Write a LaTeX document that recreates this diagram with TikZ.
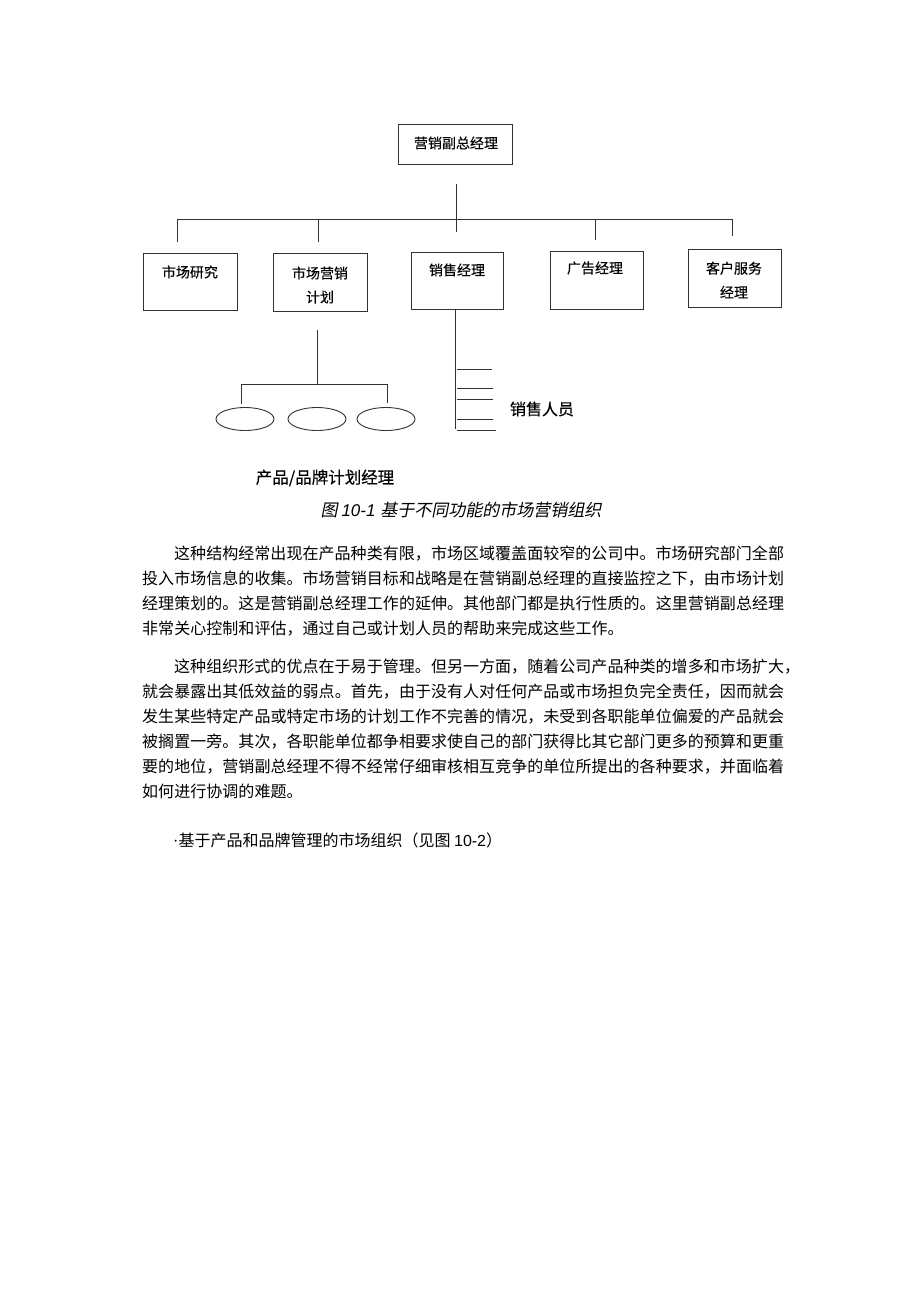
\documentclass[tikz,border=0pt]{standalone}
\usepackage{fontspec}
\usetikzlibrary{shapes.geometric}
\setmainfont{Liberation Serif}
\newfontfamily\cjk{Noto Sans CJK SC}
\newfontfamily\cjkb{Noto Sans CJK SC}[FakeBold=0.3]
\newfontfamily\cjkslant{Noto Sans CJK SC}[FakeSlant=0.2]
\newfontfamily\lsans{Liberation Sans}
\makeatletter
\newcommand\jline[1]{\@tfor\jc:=#1\do{\makebox[16.05pt][l]{\jc}}}
\makeatother
\begin{document}
\begin{tikzpicture}[x=1pt,y=-1pt,
  ln/.style={line width=1pt, draw=black!80},
  box/.style={draw=black!80, line width=1pt, inner sep=0pt, rectangle},
  oval/.style={draw=black!80, line width=0.9pt, ellipse, inner sep=0pt, minimum width=58pt, minimum height=23pt},
  lbl/.style={font=\cjkb\fontsize{14}{24}\selectfont, inner sep=0pt, align=center},
  ptext/.style={font=\cjk\fontsize{16}{16}\selectfont, inner sep=0pt, anchor=base west},
]
\useasboundingbox (0,0) rectangle (920,1302);
\fill[white] (0,0) rectangle (920,1302);

% boxes
\node[box, minimum width=114pt, minimum height=40pt] (top) at (455,144) {};
\node[box, minimum width=94pt, minimum height=57pt] (A) at (190,281.5) {};
\node[box, minimum width=94pt, minimum height=58pt] (B) at (320,282) {};
\node[box, minimum width=92pt, minimum height=57pt] (C) at (457,280.5) {};
\node[box, minimum width=93pt, minimum height=58pt] (D) at (596.5,280) {};
\node[box, minimum width=93pt, minimum height=58pt] (E) at (734.5,278) {};

% labels
\node[lbl] (tTop) at (456,143) {营销副总经理};
\node[lbl] (tA) at (190,272) {市场研究};
\node[lbl] (tB) at (320,285) {市场营销\\计划};
\node[lbl] (tC) at (457,270) {销售经理};
\node[lbl] (tD) at (595,268) {广告经理};
\node[lbl] (tE) at (734,280) {客户服务\\经理};

% tree coordinates
\coordinate (t0) at (456,184);
\coordinate (t1) at (456,232);
\coordinate (bl) at (177,219);
\coordinate (br) at (732,219);
\coordinate (dA) at (177,242);
\coordinate (dB) at (318,242);
\coordinate (dD) at (595,240);
\coordinate (dE) at (732,236);
\draw[ln] (t0) -- (t1);
\draw[ln] (bl) -- (br);
\draw[ln] (bl) -- (dA);
\draw[ln] (318,219) -- (dB);
\draw[ln] (595,219) -- (dD);
\draw[ln] (br) -- (dE);

% sales staff
\coordinate (s0) at (455,309);
\coordinate (s1) at (455,429);
\draw[ln] (s0) -- (s1);
\foreach \yy/\xe [count=\i] in {369/492,388/493,399/493,419/493,430/496}{
  \coordinate (k\i a) at (457,\yy);
  \coordinate (k\i b) at (\xe,\yy);
  \draw[ln] (k\i a) -- (k\i b);
}
\node[font=\cjkb\fontsize{16}{16}\selectfont, inner sep=0pt] (staff) at (542,409) {销售人员};

% product managers
\coordinate (m0) at (317,330);
\coordinate (m1) at (317,384);
\coordinate (ml) at (241,384);
\coordinate (mr) at (387,384);
\coordinate (mld) at (241,404);
\coordinate (mrd) at (387,403);
\draw[ln] (m0) -- (m1);
\draw[ln] (ml) -- (mr);
\draw[ln] (ml) -- (mld);
\draw[ln] (mr) -- (mrd);
\node[oval] (e1) at (245,419) {};
\node[oval] (e2) at (317,419) {};
\node[oval] (e3) at (386,419) {};
\node[font=\cjkb\fontsize{16.5}{17}\selectfont, inner sep=0pt] (pm) at (325,478) {产品/品牌计划经理};

% caption
\node[inner sep=0pt, font=\fontsize{17}{17}\selectfont] (cap) at (461,510) {{\cjkslant 图 }{\lsans\itshape 10-1 }{\cjkslant 基于不同功能的市场营销组织}};

% paragraph 1
\node[ptext] (p1a) at (174,559) {\jline{这种结构经常出现在产品种类有限，市场区域覆盖面较窄的公司中。市场研究部门全部}};
\node[ptext] (p1b) at (142,584) {\jline{投入市场信息的收集。市场营销目标和战略是在营销副总经理的直接监控之下，由市场计划}};
\node[ptext] (p1c) at (142,609) {\jline{经理策划的。这是营销副总经理工作的延伸。其他部门都是执行性质的。这里营销副总经理}};
\node[ptext] (p1d) at (142,634) {\jline{非常关心控制和评估，通过自己或计划人员的帮助来完成这些工作。}};

% paragraph 2
\node[ptext] (p2a) at (174,672) {\jline{这种组织形式的优点在于易于管理。但另一方面，随着公司产品种类的增多和市场扩大，}};
\node[ptext] (p2b) at (142,697) {\jline{就会暴露出其低效益的弱点。首先，由于没有人对任何产品或市场担负完全责任，因而就会}};
\node[ptext] (p2c) at (142,722) {\jline{发生某些特定产品或特定市场的计划工作不完善的情况，未受到各职能单位偏爱的产品就会}};
\node[ptext] (p2d) at (142,747) {\jline{被搁置一旁。其次，各职能单位都争相要求使自己的部门获得比其它部门更多的预算和更重}};
\node[ptext] (p2e) at (142,772) {\jline{要的地位，营销副总经理不得不经常仔细审核相互竞争的单位所提出的各种要求，并面临着}};
\node[ptext] (p2f) at (142,797) {\jline{如何进行协调的难题。}};

% bullet line
\node[ptext] (p3) at (173,846) {{\rmfamily ·}基于产品和品牌管理的市场组织（见图 {\lsans 10-2}）};
\end{tikzpicture}
\end{document}
